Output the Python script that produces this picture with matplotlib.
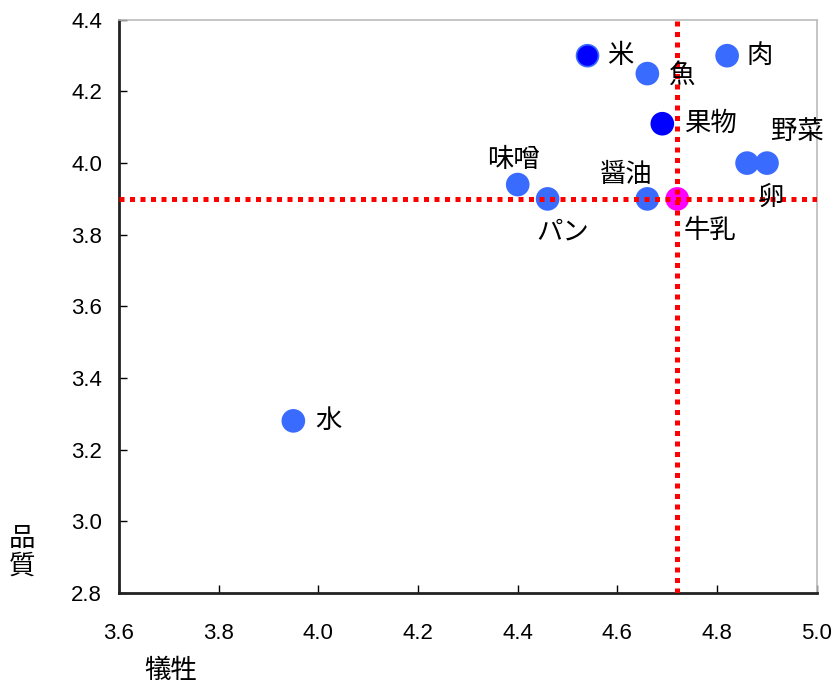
import matplotlib
matplotlib.use("Agg")
import matplotlib.pyplot as plt

plt.rcParams['font.family'] = ['Liberation Sans', 'Noto Sans CJK JP', 'DejaVu Sans']

# data
names = ['米', '魚', '肉', '果物', '野菜', '卵', '味噌', 'パン', '醤油', '牛乳', '水']
sacrifice = [4.54, 4.66, 4.82, 4.69, 4.90, 4.86, 4.40, 4.46, 4.66, 4.72, 3.95]
quality = [4.30, 4.25, 4.30, 4.11, 4.00, 4.00, 3.94, 3.90, 3.90, 3.90, 3.28]
colors = ['#0000ff', '#3a6bff', '#3a6bff', '#0000ff', '#3a6bff', '#3a6bff',
          '#3a6bff', '#3a6bff', '#3a6bff', '#ff00ff', '#3a6bff']
edges = ['#3a6bff', '#3a6bff', '#3a6bff', '#0000ff', '#3a6bff', '#3a6bff',
         '#3a6bff', '#3a6bff', '#3a6bff', '#ff00ff', '#3a6bff']
# label offsets in pixels
offsets = [(33, 0), (35, -2), (33, 0), (48, 0), (30, 32), (24, -34),
           (-4, 25), (15, -33), (-21, 24), (33, -32), (35, 0)]
mean_x = 4.72
mean_y = 3.90

cjk = ['Noto Sans CJK JP', 'DejaVu Sans']

fig = plt.figure(figsize=(8.31, 6.86), dpi=100)
ax = fig.add_axes([0.143, 0.136, 0.840, 0.835])

ax.scatter(sacrifice, quality, s=250, c=colors, edgecolors=edges, linewidths=1.2, zorder=3)
for n, x, y, off in zip(names, sacrifice, quality, offsets):
    ax.annotate(n, (x, y), xytext=off, textcoords='offset pixels',
                ha='center', va='center', fontsize=19, family=cjk, zorder=5)

ax.axhline(mean_y, color='#ff0000', lw=3.6, linestyle=(0, (1, 1.1)),
           dash_capstyle='butt', zorder=4)
ax.axvline(mean_x, color='#ff0000', lw=3.6, linestyle=(0, (1, 1.1)),
           dash_capstyle='butt', zorder=4)

ax.set_xlim(3.6, 5.0)
ax.set_ylim(2.8, 4.4)
ax.set_xticks([3.6, 3.8, 4.0, 4.2, 4.4, 4.6, 4.8, 5.0])
ax.set_yticks([2.8, 3.0, 3.2, 3.4, 3.6, 3.8, 4.0, 4.2, 4.4])
ax.set_xticklabels(['3.6', '3.8', '4.0', '4.2', '4.4', '4.6', '4.8', '5.0'])
ax.set_yticklabels(['2.8', '3.0', '3.2', '3.4', '3.6', '3.8', '4.0', '4.2', '4.4'])
ax.tick_params(direction='in', length=6, width=1, labelsize=16, pad=12)
ax.tick_params(axis='x', pad=22)

for side in ['left', 'bottom']:
    ax.spines[side].set_color('#222222')
    ax.spines[side].set_linewidth(2)
for side in ['top', 'right']:
    ax.spines[side].set_color('#bbbbbb')
    ax.spines[side].set_linewidth(1.2)

fig.text(0.027, 0.195, '品\n質', fontsize=19, ha='center', va='center',
         family=cjk, linespacing=1.05)
fig.text(0.205, 0.022, '犠牲', fontsize=19, ha='center', va='center', family=cjk)

fig.savefig('out.png', dpi=100)
